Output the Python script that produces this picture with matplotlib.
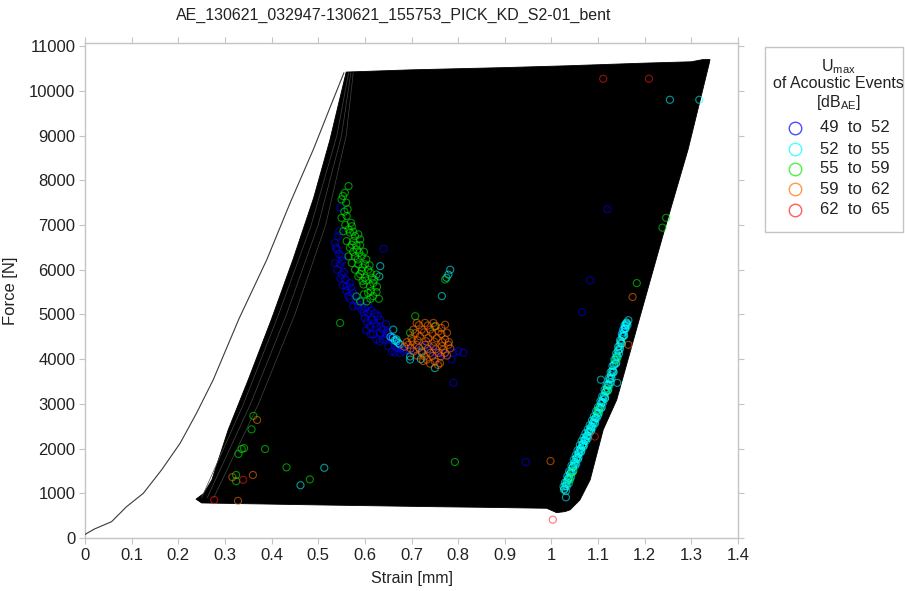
import numpy as np
import matplotlib
matplotlib.use('Agg')
import matplotlib.pyplot as plt
from matplotlib.patches import Rectangle
from matplotlib.lines import Line2D

plt.rcParams['font.family'] = ['Liberation Sans', 'DejaVu Sans']
plt.rcParams['mathtext.fontset'] = 'custom'
plt.rcParams['mathtext.rm'] = 'Liberation Sans'

TITLE = 'AE_130621_032947-130621_155753_PICK_KD_S2-01_bent'
TEXT_COLOR = '#222222'
FRAME_COLOR = '#c4c4c4'

# First loading curve
first_strain = [0, 0.02, 0.057, 0.089, 0.125, 0.164, 0.204, 0.239, 0.275, 0.33, 0.39, 0.44, 0.49, 0.53, 0.555]
first_force = [80, 200, 365, 700, 1000, 1520, 2120, 2790, 3540, 4900, 6230, 7500, 8700, 9750, 10400]

# Outline of the area covered by all load cycles
cycle_strain = [0.238, 0.255, 0.272, 0.307, 0.35, 0.40, 0.446, 0.49, 0.525, 0.548, 0.56, 0.70, 0.90, 1.033,
                1.20, 1.30, 1.325, 1.340, 1.338, 1.293, 1.24, 1.19, 1.140, 1.111, 1.083, 1.061, 1.040,
                1.029, 1.011, 0.99, 0.85, 0.75, 0.50, 0.25]
cycle_force = [870, 1000, 1300, 2420, 3540, 4900, 6230, 7600, 8900, 9900, 10420, 10470, 10520, 10560,
               10620, 10650, 10700, 10700, 10600, 8690, 6800, 4950, 3090, 2420, 1300, 850, 630,
               590, 567, 665, 687, 700, 740, 784]

# a few of the early reloading lines, seen as grey streaks at the left edge
early_force = [900, 3000, 5000, 7000, 9000, 10400]
early_1 = [0.25, 0.34, 0.415, 0.485, 0.54, 0.565]
early_2 = [0.262, 0.355, 0.432, 0.50, 0.55, 0.57]
early_3 = [0.276, 0.372, 0.45, 0.516, 0.56, 0.575]

# Acoustic events, by amplitude class
blue_s = [0.547, 0.545, 0.536, 0.540, 0.550, 0.536, 0.547, 0.550, 0.640, 0.561, 0.568, 0.575, 0.565, 0.583,
          0.575, 0.593, 0.607, 0.622, 0.600, 0.615, 0.633, 0.611, 0.625, 0.640, 0.618, 0.633, 0.647, 0.658,
          0.640, 0.625, 0.650, 0.665, 0.679, 0.690, 0.658, 0.675, 0.790, 0.811, 0.786, 0.790, 0.607, 0.740,
          0.754, 0.711, 0.758, 1.120, 1.083, 1.066, 1.156, 0.945, 1.152, 1.158,
          0.543, 0.538, 0.545, 0.552, 0.541, 0.555, 0.548, 0.558, 0.553, 0.570, 0.560, 0.580, 0.568, 0.590,
          0.585, 0.600, 0.597, 0.614, 0.628, 0.605, 0.620, 0.645, 0.603, 0.635, 0.650, 0.612, 0.645, 0.662,
          0.632, 0.670, 0.683, 0.697, 0.665, 0.722, 0.735, 0.747, 0.770, 0.800]
blue_f = [7390, 6860, 6600, 6450, 6300, 6150, 6120, 5890, 6470, 5630, 5700, 5480, 5410, 5290,
          5180, 5110, 5030, 5030, 4920, 4880, 4880, 4730, 4730, 4660, 4550, 4590, 4550, 4470,
          4440, 4440, 4290, 4320, 4250, 4210, 4170, 4140, 4140, 4140, 3990, 3470, 5220, 4210,
          4140, 4210, 4030, 7350, 5760, 5050, 4730, 1700, 4600, 4700,
          6750, 6500, 6350, 6200, 6000, 5950, 5800, 5780, 5650, 5600, 5530, 5420, 5350, 5300,
          5200, 5150, 5040, 5080, 4960, 4830, 4800, 4780, 4640, 4690, 4600, 4560, 4480, 4400,
          4390, 4250, 4180, 4200, 4150, 4280, 4330, 4180, 4120, 4180]

cyan_s = [0.783, 0.779, 0.775, 0.765, 0.668, 0.672, 0.697, 0.750, 0.697, 0.633, 0.631, 0.661, 0.722, 0.668,
          0.720, 1.254, 1.317, 0.513, 0.462, 1.031, 1.165, 1.106, 1.141, 0.664, 0.660, 0.675, 0.655,
          1.027, 1.030, 1.032, 1.035, 1.037, 1.040, 1.042, 1.045, 1.047, 1.050, 1.053, 1.055, 1.058, 1.060,
          1.063, 1.066, 1.068, 1.071, 1.074, 1.077, 1.080, 1.083, 1.086, 1.089, 1.092, 1.095, 1.098, 1.101,
          1.104, 1.107, 1.110, 1.113, 1.116, 1.119, 1.122, 1.125, 1.128, 1.131, 1.134, 1.137, 1.140, 1.143,
          1.146, 1.149, 1.152, 1.155, 1.157, 1.159, 1.161,
          1.033, 1.039, 1.044, 1.051, 1.057, 1.064, 1.070, 1.078, 1.085, 1.093, 1.100, 1.108, 1.115, 1.121,
          1.127, 1.133, 1.139, 1.145, 1.151, 1.156, 1.163,
          1.026, 1.029, 1.034, 1.038, 1.043, 1.048, 1.052, 1.056, 1.061, 1.065, 1.069, 1.073, 1.078, 1.082,
          1.087, 1.091, 1.096, 1.100, 1.105, 1.109, 1.114, 1.118, 1.123, 1.127, 1.131, 1.135, 1.139, 1.143,
          1.147, 1.151, 1.154, 1.157,
          1.028, 1.033, 1.036, 1.041, 1.046, 1.049, 1.054, 1.059, 1.062, 1.067, 1.072, 1.076, 1.081, 1.085,
          1.090, 1.094, 1.099, 1.103, 1.108, 1.112, 1.117, 1.121, 1.126, 1.130, 1.135, 1.139, 1.144, 1.148,
          1.153, 1.158, 1.160,
          1.031, 1.037, 1.042, 1.047, 1.053, 1.058, 1.063, 1.068, 1.074, 1.079, 1.084, 1.088, 1.093, 1.097,
          1.102, 1.106, 1.111, 1.115, 1.120, 1.124, 1.129, 1.133, 1.138, 1.142, 1.147, 1.150, 1.155, 1.159,
          1.162]
cyan_f = [6000, 5890, 5820, 5410, 4440, 4360, 4060, 3800, 3990, 6080, 5850, 4660, 4170, 4400,
          4000, 9800, 9800, 1570, 1180, 910, 4870, 3540, 3470, 4420, 4480, 4330, 4500,
          1080, 1160, 1210, 1300, 1350, 1440, 1480, 1570, 1610, 1700, 1760, 1820, 1880, 1950,
          2000, 2070, 2110, 2180, 2240, 2300, 2370, 2430, 2500, 2570, 2640, 2700, 2780, 2860,
          2930, 3010, 3090, 3180, 3260, 3350, 3440, 3540, 3640, 3750, 3860, 3970, 4080, 4180,
          4290, 4400, 4500, 4600, 4680, 4750, 4820,
          1160, 1320, 1460, 1620, 1760, 1950, 2070, 2230, 2400, 2560, 2740, 2920, 3120, 3300,
          3480, 3700, 3920, 4130, 4350, 4520, 4760,
          1150, 1240, 1380, 1490, 1620, 1750, 1850, 1960, 2080, 2170, 2250, 2340, 2430, 2520,
          2630, 2720, 2840, 2930, 3060, 3170, 3310, 3420, 3580, 3710, 3850, 3990, 4130, 4280,
          4420, 4560, 4660, 4760,
          1100, 1260, 1330, 1450, 1590, 1660, 1790, 1910, 1990, 2090, 2200, 2280, 2390, 2480,
          2590, 2680, 2810, 2910, 3040, 3150, 3290, 3410, 3570, 3710, 3890, 4040, 4210, 4360,
          4530, 4700, 4790,
          1050, 1220, 1370, 1500, 1660, 1800, 1920, 2040, 2170, 2280, 2380, 2470, 2580, 2680,
          2800, 2900, 3030, 3140, 3290, 3410, 3570, 3720, 3900, 4050, 4230, 4350, 4530, 4680,
          4800]

green_s = [0.565, 0.557, 0.550, 0.560, 0.550, 0.561, 0.572, 0.554, 0.568, 0.579, 0.586, 0.561, 0.575, 0.590,
           0.568, 0.583, 0.565, 0.579, 0.593, 0.572, 0.586, 0.600, 0.579, 0.593, 0.607, 0.586, 0.600, 0.615,
           0.625, 0.597, 0.611, 0.618, 0.607, 0.618, 0.590, 0.604, 0.547, 0.708, 0.697, 0.750, 0.772,
           0.361, 0.357, 0.329, 0.336, 0.341, 0.386, 0.432, 0.324, 0.324, 0.482, 0.793, 1.246, 1.238,
           1.183, 1.140, 1.122, 1.040, 1.046, 1.100,
           0.553, 0.563, 0.556, 0.570, 0.558, 0.565, 0.575, 0.582, 0.572, 0.590, 0.598, 0.588, 0.575, 0.603,
           0.585, 0.595, 0.610, 0.612, 0.590, 0.603, 0.620, 0.595, 0.626, 0.613, 0.598, 0.625, 0.612, 0.582,
           0.630]
green_f = [7870, 7720, 7570, 7500, 7160, 7200, 6970, 6860, 6830, 6750, 6790, 6640, 6640, 6680,
           6490, 6450, 6300, 6300, 6300, 6150, 6120, 6120, 6000, 5970, 6000, 5850, 5820, 5820,
           5890, 5670, 5630, 5700, 5480, 5410, 5290, 5290, 4810, 4960, 4590, 4730, 5780,
           2730, 2430, 1880, 1990, 2010, 1990, 1580, 1410, 1270, 1310, 1700, 7160, 6940,
           5700, 4000, 3320, 1300, 1480, 2850,
           7650, 7350, 7300, 7050, 7000, 6900, 6850, 6550, 6560, 6550, 6400, 6380, 6400, 6230,
           6230, 6050, 6100, 5930, 5900, 5760, 5780, 5750, 5620, 5520, 5450, 5500, 5350, 5400,
           5350]

orange_s = [0.711, 0.729, 0.747, 0.772, 0.704, 0.722, 0.740, 0.758, 0.776, 0.700, 0.718, 0.736, 0.754, 0.772,
            0.693, 0.711, 0.729, 0.747, 0.765, 0.779, 0.704, 0.722, 0.740, 0.758, 0.772, 0.733, 0.750, 0.761,
            0.369, 0.316, 0.360, 0.328, 0.998, 1.174, 1.165,
            0.716, 0.735, 0.752, 0.764, 0.708, 0.727, 0.745, 0.764, 0.702, 0.713, 0.731, 0.749, 0.766, 0.780,
            0.698, 0.716, 0.735, 0.752, 0.768, 0.783, 0.712, 0.728, 0.745, 0.763, 0.776, 0.740, 0.757, 0.725,
            0.690, 0.685]
orange_f = [4810, 4810, 4810, 4770, 4660, 4660, 4660, 4620, 4590, 4470, 4510, 4470, 4470, 4440,
            4320, 4320, 4320, 4290, 4290, 4320, 4170, 4140, 4140, 4140, 4140, 3990, 3950, 3910,
            2640, 1360, 1410, 830, 1720, 5390, 4320,
            4760, 4750, 4740, 4700, 4580, 4600, 4570, 4560, 4400, 4420, 4400, 4390, 4380, 4380,
            4240, 4250, 4230, 4220, 4210, 4240, 4080, 4060, 4070, 4060, 4080, 3900, 3870, 3960,
            4380, 4280]

red_s = [1.111, 1.209, 0.277, 0.339, 1.003, 1.093]
red_f = [10270, 10270, 850, 1300, 410, 2270]

classes = ['49  to  52', '52  to  55', '55  to  59', '59  to  62', '62  to  65']
class_colors = ['#0000ff', '#00ffff', '#00ee00', '#ff6f00', '#ff1a1a']

fig = plt.figure(figsize=(9.05, 5.91), dpi=100)
ax = fig.add_axes([85 / 905, 1 - 538 / 591, (738 - 85) / 905, (538 - 43) / 591])

ax.fill(cycle_strain, cycle_force, color='black', lw=0.6, zorder=2)
for s in (early_1, early_2, early_3):
    ax.plot(s, early_force, color='#454545', lw=0.5, zorder=3)
ax.plot(first_strain, first_force, color='#3a3a3a', lw=0.8, zorder=3)

groups = [(blue_s, blue_f), (cyan_s, cyan_f), (green_s, green_f), (orange_s, orange_f), (red_s, red_f)]
for (s, f), c in zip(groups, class_colors):
    ax.scatter(s, f, s=26, facecolors='none', edgecolors=c, linewidths=0.8, alpha=0.6, zorder=4)

ax.set_xlim(0, 1.4)
ax.set_ylim(0, 11070)
ax.set_xticks(np.arange(0, 1.41, 0.1))
ax.set_xticklabels(['%g' % round(v, 1) for v in np.arange(0, 1.41, 0.1)])
ax.set_yticks(np.arange(0, 11001, 1000))
ax.tick_params(direction='out', length=4, color=FRAME_COLOR, labelsize=12, labelcolor=TEXT_COLOR,
               top=True, right=True, pad=3)
for sp in ax.spines.values():
    sp.set_color(FRAME_COLOR)
    sp.set_linewidth(1)

ax.set_xlabel('Strain [mm]', fontsize=11.5, color=TEXT_COLOR, labelpad=6)
ax.set_ylabel('Force [N]', fontsize=12, color=TEXT_COLOR, labelpad=8)
fig.text(394 / 905, 1 - 15 / 591, TITLE, ha='center', va='center', fontsize=11.5, color=TEXT_COLOR)

# legend box
fig.patches.append(Rectangle((765 / 905, 1 - 232 / 591), 138 / 905, 185 / 591, transform=fig.transFigure,
                             facecolor='white', edgecolor=FRAME_COLOR, lw=1))
fig.text(838 / 905, 1 - 67 / 591, r'U$_{\mathrm{max}}$', ha='center', va='center', fontsize=11.5, color=TEXT_COLOR)
fig.text(838 / 905, 1 - 84 / 591, 'of Acoustic Events', ha='center', va='center', fontsize=11.5, color=TEXT_COLOR)
fig.text(838 / 905, 1 - 102 / 591, r'[dB$_{\mathrm{AE}}$]', ha='center', va='center', fontsize=11.5, color=TEXT_COLOR)
entry_y = [128, 149, 169, 189, 210]
for yy, lab, c in zip(entry_y, classes, class_colors):
    fig.lines.append(Line2D([795 / 905], [1 - yy / 591], transform=fig.transFigure, marker='o', ms=9,
                            mfc='none', mec=c, mew=1.0, alpha=0.7))
    fig.text(820 / 905, 1 - yy / 591, lab, ha='left', va='center', fontsize=12, color=TEXT_COLOR)

fig.savefig('out.png', dpi=100)
